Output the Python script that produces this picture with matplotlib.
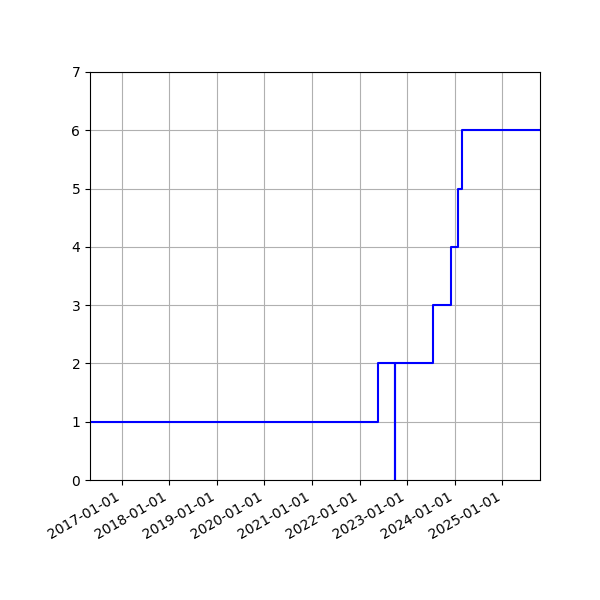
import matplotlib
matplotlib.use("Agg")
import matplotlib.pyplot as plt
import matplotlib.dates as mdates
import numpy as np
import datetime as dt

dates = ["2016-05-03", "2022-05-19", "2022-10-02", "2022-10-03", "2023-07-17",
         "2023-12-07", "2024-01-24", "2024-02-24", "2025-10-17"]
values = [1, 2, 0, 2, 3, 4, 5, 6, 6]

x = [dt.datetime.strptime(d, "%Y-%m-%d") for d in dates]

fig = plt.figure(figsize=(6, 6), dpi=100)
ax = fig.add_axes([0.15, 0.2, 0.75, 0.68])
ax.step(x, values, where="post", color="blue", linewidth=1.5)
ax.set_xlim(x[0], x[-1])
ax.set_ylim(0, 7)
ax.xaxis.set_major_locator(mdates.YearLocator())
ax.xaxis.set_major_formatter(mdates.DateFormatter("%Y-%m-%d"))
ax.grid(True)
for lab in ax.get_xticklabels():
    lab.set_rotation(30)
    lab.set_ha("right")
fig.savefig("out.png", dpi=100)
